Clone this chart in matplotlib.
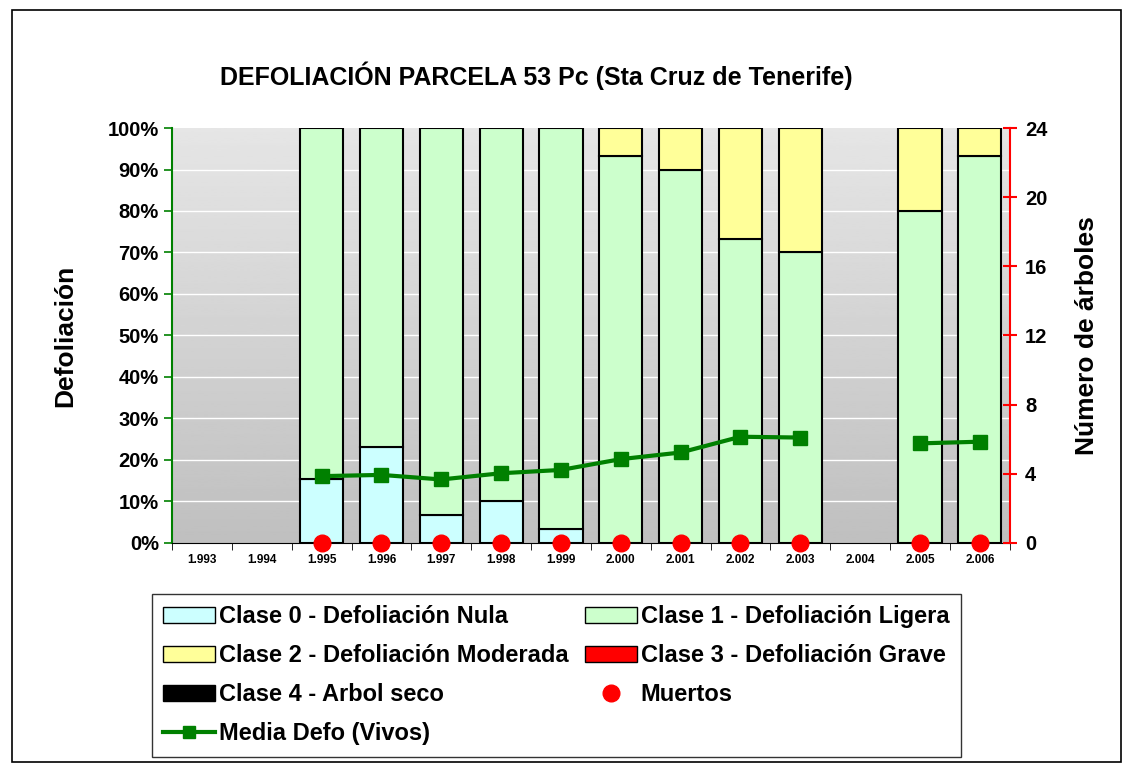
import numpy as np
import matplotlib
matplotlib.use("Agg")
import matplotlib.pyplot as plt
from matplotlib.patches import Patch, Rectangle
from matplotlib.lines import Line2D
from matplotlib.ticker import FuncFormatter

plt.rcParams["font.family"] = ["Liberation Sans", "DejaVu Sans"]
plt.rcParams["font.weight"] = "bold"

years = ["1.993", "1.994", "1.995", "1.996", "1.997", "1.998", "1.999",
         "2.000", "2.001", "2.002", "2.003", "2.004", "2.005", "2.006"]
clase0 = [0, 0, 15.4, 23.1, 6.7, 10.0, 3.3, 0, 0, 0, 0, 0, 0, 0]
clase1 = [0, 0, 84.6, 76.9, 93.3, 90.0, 96.7, 93.3, 90.0, 73.3, 70.0, 0, 80.0, 93.3]
clase2 = [0, 0, 0, 0, 0, 0, 0, 6.7, 10.0, 26.7, 30.0, 0, 20.0, 6.7]
clase3 = [0] * 14
clase4 = [0] * 14
muertos = [np.nan, np.nan, 0, 0, 0, 0, 0, 0, 0, 0, 0, np.nan, 0, 0]
media_defo = [np.nan, np.nan, 16.1, 16.4, 15.3, 16.8, 17.6, 20.2, 21.8,
              25.6, 25.4, np.nan, 24.0, 24.4]

c0_col = "#ccffff"
c1_col = "#ccffcc"
c2_col = "#ffff99"
c3_col = "#ff0000"
c4_col = "#000000"
line_col = "#008000"

fig = plt.figure(figsize=(11.32, 7.73), dpi=100)
ax = fig.add_axes([0.152, 0.2976, 0.740, 0.5368])

x = np.arange(len(years))

# fondo degradado
grad = np.linspace(0.90, 0.75, 256).reshape(-1, 1)
ax.imshow(grad, cmap="gray", vmin=0, vmax=1, aspect="auto",
          extent=[0, 1, 0, 1], transform=ax.transAxes, zorder=0)

for v in range(10, 100, 10):
    ax.axhline(v, color="white", lw=1, zorder=1)

w = 0.72
bottom = np.zeros(len(years))
for vals, col in [(clase0, c0_col), (clase1, c1_col), (clase2, c2_col),
                  (clase3, c3_col), (clase4, c4_col)]:
    vals = np.array(vals, dtype=float)
    mask = vals > 0
    ax.bar(x[mask], vals[mask], w, bottom=bottom[mask], color=col,
           edgecolor="black", lw=1.5, zorder=2)
    bottom += vals

ax.plot(x, media_defo, color=line_col, lw=3, marker="s", ms=10, zorder=4)

ax.set_xlim(-0.5, len(years) - 0.5)
ax.set_ylim(0, 100)
ax.set_yticks(range(0, 101, 10))
ax.yaxis.set_major_formatter(FuncFormatter(lambda v, p: f"{int(v)}%"))
ax.set_xticks(x)
ax.set_xticklabels(years, fontsize=8.5, fontweight="bold")
ax.set_xticks(np.arange(-0.5, len(years), 1), minor=True)
ax.tick_params(axis="x", which="major", length=0, pad=8)
ax.tick_params(axis="x", which="minor", length=5, color="black")
ax.tick_params(axis="y", labelsize=14.5, color=line_col, length=6, width=1.2)
for lbl in ax.get_yticklabels():
    lbl.set_fontweight("bold")
ax.set_ylabel("Defoliación", fontsize=19, fontweight="bold", labelpad=22)

for side in ["top", "right"]:
    ax.spines[side].set_visible(False)
ax.spines["left"].set_color(line_col)
ax.spines["left"].set_linewidth(1.5)
ax.spines["bottom"].set_color("black")

ax2 = ax.twinx()
ax2.set_ylim(0, 24)
ax2.set_yticks(range(0, 25, 4))
ax2.plot(x, muertos, "o", color="red", ms=12, clip_on=False, zorder=5)
ax2.tick_params(axis="y", labelsize=14.5, color="red", length=10, width=1.5,
                direction="inout", pad=6)
for lbl in ax2.get_yticklabels():
    lbl.set_fontweight("bold")
for side in ["top", "left", "bottom"]:
    ax2.spines[side].set_visible(False)
ax2.spines["right"].set_color("red")
ax2.spines["right"].set_linewidth(1.5)
ax2.set_ylabel("Número de árboles", fontsize=19, fontweight="bold", labelpad=20)

fig.text(0.474, 0.902, "DEFOLIACIÓN PARCELA 53 Pc (Sta Cruz de Tenerife)",
         ha="center", va="center", fontsize=18, fontweight="bold")

h_c0 = Patch(facecolor=c0_col, edgecolor="black", label="Clase 0 - Defoliación Nula")
h_c1 = Patch(facecolor=c1_col, edgecolor="black", label="Clase 1 - Defoliación Ligera")
h_c2 = Patch(facecolor=c2_col, edgecolor="black", label="Clase 2 - Defoliación Moderada")
h_c3 = Patch(facecolor=c3_col, edgecolor="black", label="Clase 3 - Defoliación Grave")
h_c4 = Patch(facecolor=c4_col, edgecolor="black", label="Clase 4 - Arbol seco")
h_m = Line2D([], [], ls="none", marker="o", color="red", ms=12, label="Muertos")
h_l = Line2D([], [], color=line_col, lw=3, marker="s", ms=8,
             label="Media Defo (Vivos)")

leg = fig.legend(handles=[h_c0, h_c2, h_c4, h_l, h_c1, h_c3, h_m],
                 ncol=2, loc="upper left", bbox_to_anchor=(0.134, 0.232),
                 prop={"size": 17, "weight": "bold"}, frameon=True,
                 fancybox=False, edgecolor="black", handlelength=2.2,
                 handleheight=0.7, handletextpad=0.15, columnspacing=0.7,
                 labelspacing=0.67, borderpad=0.5, borderaxespad=0)
leg.get_frame().set_linewidth(1.0)

fig.patches.append(Rectangle((0.011, 0.014), 0.979, 0.973, transform=fig.transFigure,
                             fill=False, edgecolor="black", lw=1.2))

fig.savefig("out.png", dpi=100)
